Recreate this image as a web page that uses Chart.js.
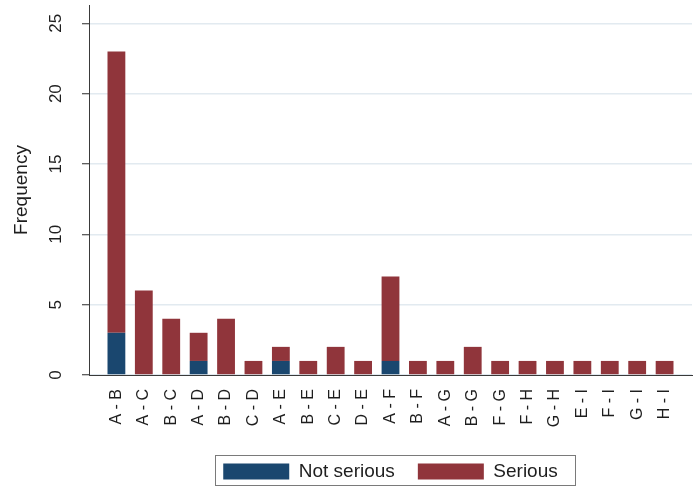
<!DOCTYPE html>
<html>
<head>
<meta charset="utf-8">
<script src="https://cdn.jsdelivr.net/npm/chart.js@4/dist/chart.umd.min.js"></script>
<style>
  html, body { margin: 0; padding: 0; background: #ffffff; }
  #wrap { width: 697px; height: 494px; }
</style>
</head>
<body>
<div id="wrap"><canvas id="chart" width="697" height="494"></canvas></div>
<script>
// Pairs of categories and counts of events, split by seriousness
const pairs = ['A - B', 'A - C', 'B - C', 'A - D', 'B - D', 'C - D', 'A - E', 'B - E', 'C - E', 'D - E',
               'A - F', 'B - F', 'A - G', 'B - G', 'F - G', 'F - H', 'G - H', 'E - I', 'F - I', 'G - I', 'H - I'];
const notSerious = [3, 0, 0, 1, 0, 0, 1, 0, 0, 0, 1, 0, 0, 0, 0, 0, 0, 0, 0, 0, 0];
const serious    = [20, 6, 4, 2, 4, 1, 1, 1, 2, 1, 6, 1, 1, 2, 1, 1, 1, 1, 1, 1, 1];
const yTicks = [0, 5, 10, 15, 20, 25];

const NAVY = '#1a476f';
const MAROON = '#90353b';
const INK = '#1e1e1e';
const FONT = 'Liberation Sans, Arial, Helvetica, sans-serif';

// bars sit on a numeric x axis so there is a free slot at each end
const toPoints = vals => vals.map((v, i) => ({ x: i, y: v }));

// centre the legend under the plot and draw a frame round it
const legendFrame = {
  id: 'legendFrame',
  afterLayout(chart) {
    const lg = chart.legend;
    if (!lg) return;
    lg.left = chart.chartArea.left;
    lg.right = chart.chartArea.right;
    lg.width = lg.right - lg.left;
  },
  afterDraw(chart) {
    const lg = chart.legend;
    if (!lg || !lg.legendHitBoxes || !lg.legendHitBoxes.length) return;
    const boxes = lg.legendHitBoxes;
    const first = boxes[0];
    const last = boxes[boxes.length - 1];
    const ctx = chart.ctx;
    const x0 = Math.round(first.left - 8) + 0.5;
    const x1 = Math.round(last.left + last.width + 17) + 0.5;
    const y0 = Math.round(first.top - 7) + 0.5;
    const y1 = Math.round(first.top + first.height + 4) + 0.5;
    ctx.save();
    ctx.strokeStyle = '#7a7a7a';
    ctx.lineWidth = 1;
    ctx.strokeRect(x0, y0, x1 - x0, y1 - y0);
    ctx.restore();
  }
};

new Chart(document.getElementById('chart'), {
  type: 'bar',
  data: {
    datasets: [
      { label: 'Not serious', data: toPoints(notSerious), backgroundColor: NAVY, borderWidth: 0 },
      { label: 'Serious', data: toPoints(serious), backgroundColor: MAROON, borderWidth: 0 }
    ]
  },
  options: {
    responsive: false,
    animation: false,
    devicePixelRatio: 1,
    layout: { padding: { left: 0, right: 5, top: 5, bottom: 3 } },
    datasets: { bar: { categoryPercentage: 1.0, barPercentage: 0.65 } },
    scales: {
      x: {
        type: 'linear',
        stacked: true,
        offset: false,
        min: -1,
        max: pairs.length,
        afterFit(scale) {
          scale.height = 64;
          scale.paddingLeft = 0;
          scale.paddingRight = 0;
        },
        grid: { display: false, drawTicks: false, offset: false },
        border: { display: true, color: '#3a3a3a', width: 1 },
        ticks: {
          stepSize: 1,
          autoSkip: false,
          maxTicksLimit: 100,
          minRotation: 90,
          maxRotation: 90,
          padding: 14,
          color: INK,
          font: { family: FONT, size: 16 },
          callback: v => (Number.isInteger(v) && v >= 0 && v < pairs.length) ? pairs[v] : ''
        }
      },
      y: {
        stacked: true,
        min: 0,
        max: 26.3,
        afterFit(scale) {
          scale.width = 89;
          scale.paddingTop = 0;
          scale.paddingBottom = 0;
        },
        afterBuildTicks(scale) { scale.ticks = yTicks.map(v => ({ value: v })); },
        grid: {
          color: '#e2eaf0',
          lineWidth: 1.5,
          tickColor: '#2a2a2a',
          tickWidth: 1,
          tickLength: 7
        },
        border: { display: true, color: '#3a3a3a', width: 1 },
        ticks: {
          includeBounds: false,
          minRotation: 90,
          maxRotation: 90,
          crossAlign: 'center',
          padding: 16,
          color: INK,
          font: { family: FONT, size: 17 }
        },
        title: {
          display: true,
          text: 'Frequency',
          color: INK,
          padding: { top: 10, bottom: 0 },
          font: { family: FONT, size: 19 }
        }
      }
    },
    plugins: {
      legend: {
        display: true,
        position: 'bottom',
        labels: {
          boxWidth: 66,
          boxHeight: 16,
          padding: 23,
          color: INK,
          font: { family: FONT, size: 19 }
        }
      },
      tooltip: { enabled: false },
      title: { display: false }
    }
  },
  plugins: [legendFrame]
});
</script>
</body>
</html>
